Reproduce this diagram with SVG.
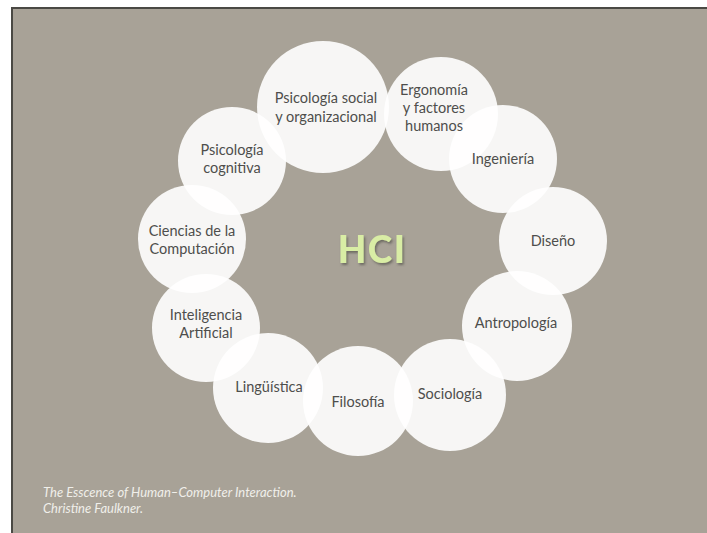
<svg xmlns="http://www.w3.org/2000/svg" width="707" height="533" viewBox="0 0 707 533">
<defs>
<style>
.bg{fill:#a8a297;stroke:#4a4944;stroke-width:2}
.c{fill:#ffffff;fill-opacity:0.9}
.t{font-family:Lato,"Open Sans","Liberation Sans",sans-serif;font-size:14.5px;fill:#4e4e4c;text-anchor:middle}
.hci{font-family:Lato,"Open Sans","Liberation Sans",sans-serif;font-weight:900;font-size:37px;fill:#d9eda5;text-anchor:middle;letter-spacing:1.5px}
.cap{font-family:Lato,"Open Sans","Liberation Sans",sans-serif;font-style:italic;font-size:13px;fill:#f0efea}
</style>
<filter id="sh" x="-20%" y="-20%" width="140%" height="150%">
<feDropShadow dx="1.5" dy="2" stdDeviation="1.2" flood-color="#4a463f" flood-opacity="0.6"/>
</filter>
</defs>
<rect width="707" height="533" fill="#ffffff"/>
<rect class="bg" x="12" y="8" width="710" height="540"/>
<g id="n-psico-social"><circle class="c" cx="323" cy="107" r="66"/></g>
<g id="n-ingenieria"><circle class="c" cx="503" cy="159" r="54"/></g>
<g id="n-ergonomia"><circle class="c" cx="441" cy="114" r="57"/></g>
<g id="n-diseno"><circle class="c" cx="553" cy="241" r="54"/></g>
<g id="n-antropologia"><circle class="c" cx="517" cy="326" r="55"/></g>
<g id="n-sociologia"><circle class="c" cx="450" cy="395" r="56"/></g>
<g id="n-filosofia"><circle class="c" cx="358" cy="401" r="55"/></g>
<g id="n-linguistica"><circle class="c" cx="268" cy="388" r="55"/></g>
<g id="n-ia"><circle class="c" cx="206" cy="328" r="54"/></g>
<g id="n-ciencias"><circle class="c" cx="192" cy="239" r="54"/></g>
<g id="n-psico-cog"><circle class="c" cx="232" cy="161" r="54"/></g>
<g id="labels">
<text class="t" x="326" y="103">Psicología social</text>
<text class="t" x="326" y="122">y organizacional</text>
<text class="t" x="434" y="95">Ergonomía</text>
<text class="t" x="434" y="113">y factores</text>
<text class="t" x="434" y="131">humanos</text>
<text class="t" x="503" y="164">Ingeniería</text>
<text class="t" x="553" y="246">Diseño</text>
<text class="t" x="516" y="328">Antropología</text>
<text class="t" x="450" y="399">Sociología</text>
<text class="t" x="358" y="407">Filosofía</text>
<text class="t" x="269" y="392">Lingüística</text>
<text class="t" x="206" y="320">Inteligencia</text>
<text class="t" x="206" y="338">Artificial</text>
<text class="t" x="192" y="236">Ciencias de la</text>
<text class="t" x="192" y="254">Computación</text>
<text class="t" x="232" y="155">Psicología</text>
<text class="t" x="232" y="173">cognitiva</text>
</g>
<g id="n-hci">
<text class="hci" x="372" y="263" filter="url(#sh)">HCI</text>
</g>
<g id="caption">
<text class="cap" x="43" y="497">The Esscence of Human–Computer Interaction.</text>
<text class="cap" x="43" y="513">Christine Faulkner.</text>
</g>
<g id="connectors"/>
</svg>
